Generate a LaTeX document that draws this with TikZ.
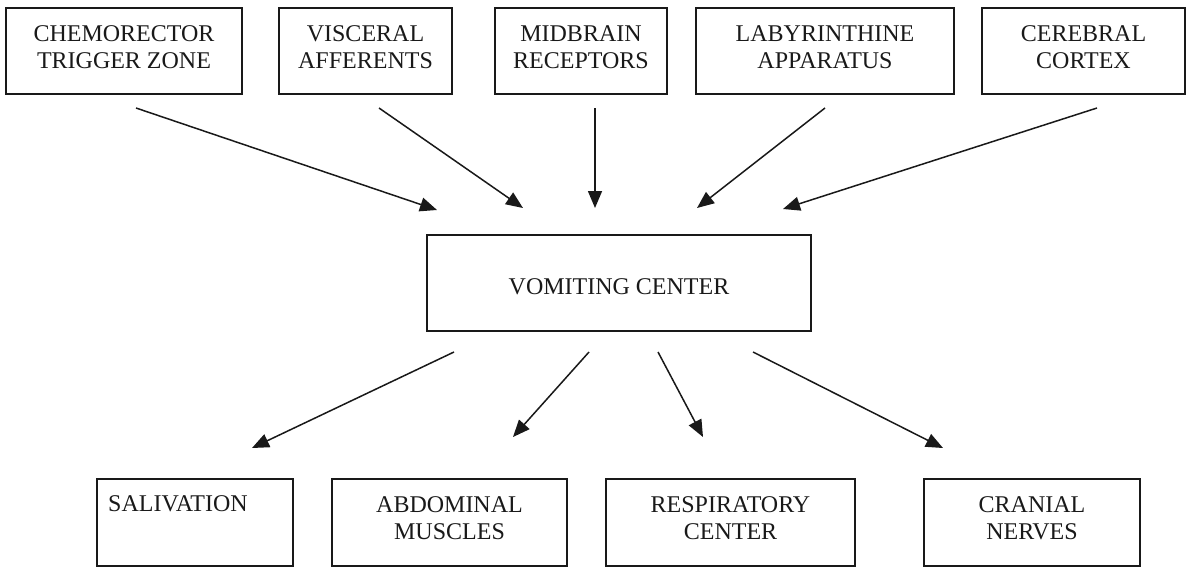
\documentclass[tikz,border=0pt]{standalone}
\usepackage{fontspec}
\setmainfont{Liberation Serif}
\usetikzlibrary{arrows.meta}
\begin{document}
\begin{tikzpicture}[x=1pt,y=-1pt,
  box/.style={draw=black!90, line width=1.6pt, inner sep=0pt},
  lbl/.style={inner sep=0pt, align=center, font=\fontsize{24}{27.5}\selectfont, text=black!90},
  arr/.style={line width=1.5pt, draw=black!90, -{Triangle[length=17pt,width=14pt]}}]
\useasboundingbox (0,0) rectangle (1188,568);
% top boxes
\node[box, minimum width=236pt, minimum height=86pt] (cz) at (124,51) {};
\node[box, minimum width=173pt, minimum height=86pt] (va) at (365.5,51) {};
\node[box, minimum width=172pt, minimum height=86pt] (mr) at (581,51) {};
\node[box, minimum width=258pt, minimum height=86pt] (la) at (825,51) {};
\node[box, minimum width=203pt, minimum height=86pt] (cc) at (1083.5,51) {};
\node[lbl] (czt) at (124,47) {CHEMORECTOR\\TRIGGER ZONE};
\node[lbl] (vat) at (365.5,47) {VISCERAL\\AFFERENTS};
\node[lbl] (mrt) at (581,47) {MIDBRAIN\\RECEPTORS};
\node[lbl] (lat) at (825,47) {LABYRINTHINE\\APPARATUS};
\node[lbl] (cct) at (1083.5,47) {CEREBRAL\\CORTEX};
% middle
\node[box, minimum width=384pt, minimum height=96pt] (vc) at (619,283) {};
\node[lbl] (vct) at (619,287) {VOMITING CENTER};
% bottom boxes
\node[box, minimum width=196pt, minimum height=87pt] (sa) at (195,522.5) {};
\node[box, minimum width=235pt, minimum height=87pt] (am) at (449.5,522.5) {};
\node[box, minimum width=249pt, minimum height=87pt] (rc) at (730.5,522.5) {};
\node[box, minimum width=216pt, minimum height=87pt] (cn) at (1032,522.5) {};
\node[lbl, anchor=west] (sat) at (108,504) {SALIVATION};
\node[lbl] (amt) at (449.5,518) {ABDOMINAL\\MUSCLES};
\node[lbl] (rct) at (730.5,518) {RESPIRATORY\\CENTER};
\node[lbl] (cnt) at (1032,518) {CRANIAL\\NERVES};
% arrow end points
\coordinate (a1s) at (136,108); \coordinate (a1e) at (437,210);
\coordinate (a2s) at (379,108); \coordinate (a2e) at (523,208);
\coordinate (a3s) at (595,108); \coordinate (a3e) at (595,208);
\coordinate (a4s) at (825,108); \coordinate (a4e) at (697,208);
\coordinate (a5s) at (1097,108); \coordinate (a5e) at (783,209);
\coordinate (b1s) at (454,352); \coordinate (b1e) at (252,448);
\coordinate (b2s) at (589,352); \coordinate (b2e) at (513,437);
\coordinate (b3s) at (658,352); \coordinate (b3e) at (703,437);
\coordinate (b4s) at (753,352); \coordinate (b4e) at (943,448);
\draw[arr] (a1s) -- (a1e);
\draw[arr] (a2s) -- (a2e);
\draw[arr] (a3s) -- (a3e);
\draw[arr] (a4s) -- (a4e);
\draw[arr] (a5s) -- (a5e);
\draw[arr] (b1s) -- (b1e);
\draw[arr] (b2s) -- (b2e);
\draw[arr] (b3s) -- (b3e);
\draw[arr] (b4s) -- (b4e);
\end{tikzpicture}
\end{document}
